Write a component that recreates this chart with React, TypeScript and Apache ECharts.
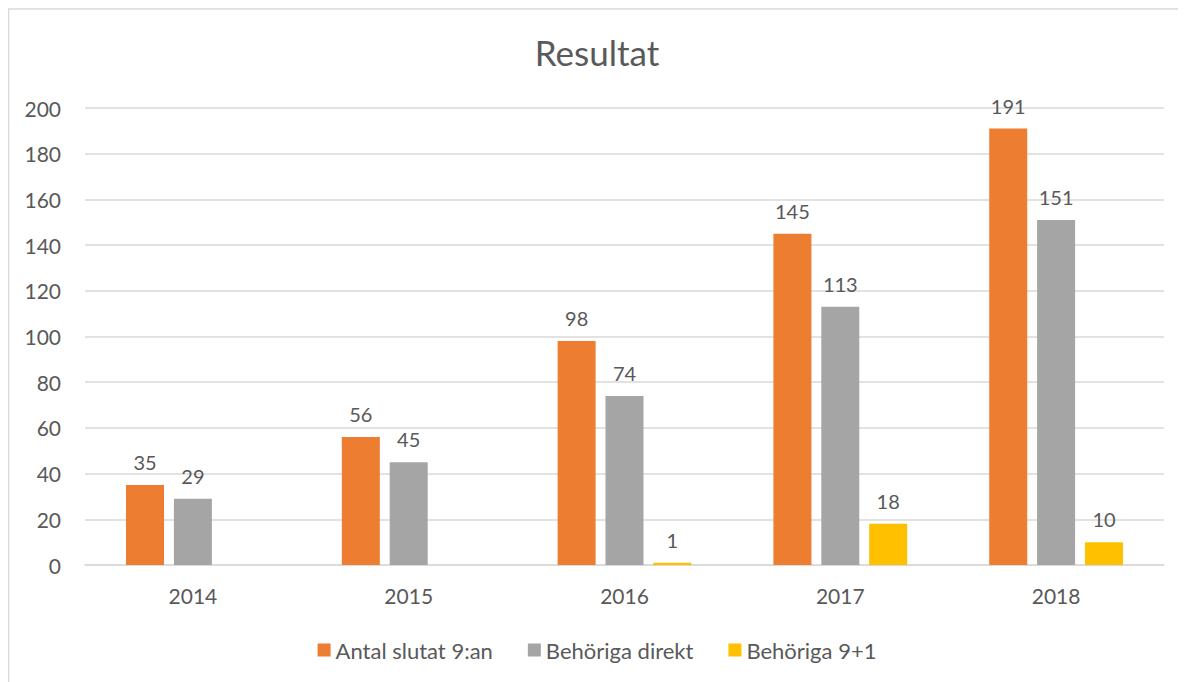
import React, { useEffect, useRef } from "react";
import * as echarts from "echarts";

const categories = ["2014", "2015", "2016", "2017", "2018"];
const antalSlutat = [35, 56, 98, 145, 191];
const behorigaDirekt = [29, 45, 74, 113, 151];
const behoriga91: (number | null)[] = [null, null, 1, 18, 10];
const seriesNames = ["Antal slutat 9:an", "Behöriga direkt", "Behöriga 9+1"];
const seriesColors = ["#ED7D31", "#A5A5A5", "#FFC000"];

const FONT = "Lato, 'Open Sans', sans-serif";
const TEXT = "#595959";

export default function App() {
  const ref = useRef<HTMLDivElement>(null);
  useEffect(() => {
    if (!ref.current) return;
    const chart = echarts.init(ref.current, undefined, { renderer: "svg" });
    const datasets = [antalSlutat, behorigaDirekt, behoriga91];
    chart.setOption({
      animation: false,
      textStyle: { fontFamily: FONT, color: TEXT },
      title: {
        text: "Resultat",
        left: "center",
        top: 21,
        textStyle: { fontFamily: FONT, color: TEXT, fontSize: 35, fontWeight: "normal" },
      },
      graphic: [
        { type: "line", shape: { x1: 0, y1: 1, x2: 1200, y2: 1 }, style: { stroke: "#D9D9D9", lineWidth: 1.5 } },
        { type: "line", shape: { x1: 0.5, y1: 1, x2: 0.5, y2: 700 }, style: { stroke: "#D9D9D9", lineWidth: 1.5 } },
      ],
      legend: {
        bottom: 16,
        left: "center",
        itemWidth: 13,
        itemHeight: 13,
        itemGap: 35,
        icon: "rect",
        textStyle: { fontFamily: FONT, color: TEXT, fontSize: 22 },
        data: seriesNames,
      },
      grid: { left: 77, right: 22, top: 100, bottom: 117, containLabel: false },
      xAxis: {
        type: "category",
        data: categories,
        axisLine: { lineStyle: { color: "#D9D9D9", width: 1.5 } },
        axisTick: { show: false },
        axisLabel: { color: TEXT, fontFamily: FONT, fontSize: 21, margin: 20 },
      },
      yAxis: {
        type: "value",
        min: 0,
        max: 200,
        interval: 20,
        axisLine: { show: false },
        axisTick: { show: false },
        splitLine: { lineStyle: { color: "#D9D9D9", width: 1.5 } },
        axisLabel: { color: TEXT, fontFamily: FONT, fontSize: 21, margin: 24 },
      },
      series: seriesNames.map((name, i) => ({
        name,
        type: "bar",
        data: datasets[i],
        barWidth: 38,
        barGap: "26%",
        itemStyle: { color: seriesColors[i] },
        label: {
          show: true,
          position: "top",
          distance: 13,
          color: TEXT,
          fontFamily: FONT,
          fontSize: 20,
        },
      })),
    });
    return () => chart.dispose();
  }, []);
  return <div ref={ref} style={{ width: 1178, height: 674 }} />;
}
